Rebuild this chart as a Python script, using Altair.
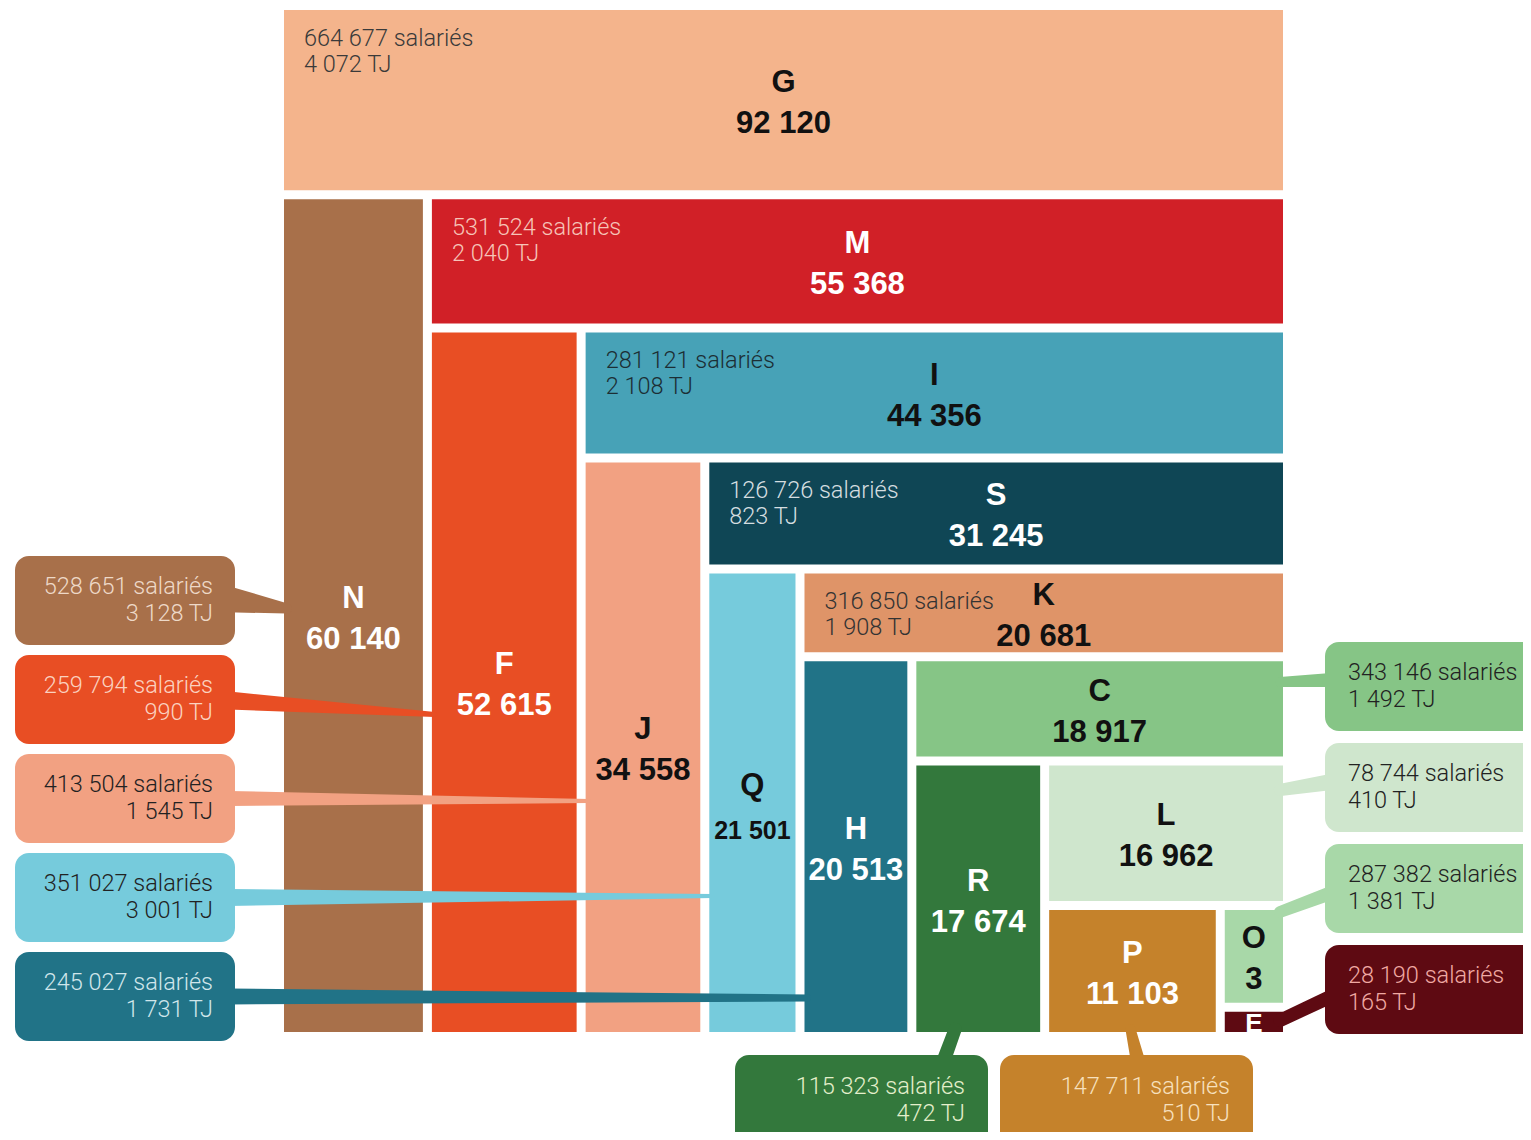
import altair as alt
import pandas as pd

# ---------------- data ----------------
codes = ["G", "N", "M", "F", "I", "J", "S", "Q", "K", "H", "C", "R", "L", "P", "O", "E"]
# tile values (O and E areas; O shows only "3", E shows no number)
values = [92120, 60140, 55368, 52615, 44356, 34558, 31245, 21501, 20681, 20513,
          18917, 17674, 16962, 11103, 3300, 950]
value_labels = ["92 120", "60 140", "55 368", "52 615", "44 356", "34 558", "31 245", "21 501",
                "20 681", "20 513", "18 917", "17 674", "16 962", "11 103", "3", ""]
salaries = ["664 677", "528 651", "531 524", "259 794", "281 121", "413 504", "126 726", "351 027",
            "316 850", "245 027", "343 146", "115 323", "78 744", "147 711", "287 382", "28 190"]
energy_tj = ["4 072", "3 128", "2 040", "990", "2 108", "1 545", "823", "3 001",
             "1 908", "1 731", "1 492", "472", "410", "510", "1 381", "165"]

# ---------------- styles ----------------
fill = {"G": "#F4B48C", "N": "#A8704A", "M": "#D12027", "F": "#E84E24", "I": "#47A2B7",
        "J": "#F2A182", "S": "#0F4655", "Q": "#76CBDC", "K": "#DF9468", "H": "#217387",
        "C": "#86C586", "R": "#33783C", "L": "#CFE6CD", "P": "#C5822B", "O": "#A8D8A8",
        "E": "#5E0A12"}
DARK = "#111111"
label_col = {c: DARK for c in codes}
for c in ["N", "M", "F", "S", "H", "R", "P", "E"]:
    label_col[c] = "#FFFFFF"
info_col = {"G": "#3A3A3A", "N": "#EED9C8", "M": "#F6C4B8", "F": "#FBD2C0", "I": "#1C2E34",
            "J": "#222222", "S": "#D5DEE0", "Q": "#222222", "K": "#333333", "H": "#D0E6EB",
            "C": "#222222", "R": "#E4EFCB", "L": "#222222", "P": "#F7E0BE", "O": "#222222",
            "E": "#F0A9A3"}

# ---------------- layout (alternating slice treemap) ----------------
X0, X1, Y0, Y1, GAP = 284, 1292, 10, 1041, 9
rect = [X0, Y0, X1, Y1]
remaining = float(sum(values))
tiles = {}
horizontal = True
for i, (c, v) in enumerate(zip(codes, values)):
    x0, y0, x1, y1 = rect
    if i == len(codes) - 1:
        t = (x0, y0, x1, y1)
    elif horizontal:
        h = (y1 - y0) * v / remaining
        t = (x0, y0, x1, y0 + h)
        rect = [x0, y0 + h, x1, y1]
    else:
        w = (x1 - x0) * v / remaining
        t = (x0, y0, x0 + w, y1)
        rect = [x0 + w, y0, x1, y1]
    remaining -= v
    horizontal = not horizontal
    tiles[c] = (t[0], t[1], t[2] - GAP, t[3] - GAP)

tile_rows = []
for c in codes:
    x0, y0, x1, y1 = tiles[c]
    tile_rows.append({"code": c, "x": x0, "x2": x1, "y": y0, "y2": y1, "fill": fill[c]})
tile_df = pd.DataFrame(tile_rows)

# labels in tiles
bold_rows = []
for c, lab in zip(codes, value_labels):
    x0, y0, x1, y1 = tiles[c]
    cx, cy = (x0 + x1) / 2, (y0 + y1) / 2
    if c == "E":
        bold_rows.append({"x": cx, "y": cy + 2, "t": c, "col": label_col[c], "s": 26})
        continue
    bold_rows.append({"x": cx, "y": cy - 17, "t": c, "col": label_col[c], "s": 31})
    bold_rows.append({"x": cx, "y": cy + 24 + (4 if c == "Q" else 0), "t": lab,
                      "col": label_col[c], "s": 25 if c == "Q" else 31})
bold_df = pd.DataFrame(bold_rows)

inside = ["G", "M", "I", "S", "K"]
left_side = ["N", "F", "J", "Q", "H"]
right_side = ["C", "L", "O", "E"]
bottom_side = ["R", "P"]

info_left_rows, info_right_rows = [], []
idx = {c: i for i, c in enumerate(codes)}
for c in inside:
    x0, y0, x1, y1 = tiles[c]
    i = idx[c]
    info_left_rows.append({"x": x0 + 20, "y": y0 + 29, "t": salaries[i] + " salariés", "col": info_col[c]})
    info_left_rows.append({"x": x0 + 20, "y": y0 + 55, "t": energy_tj[i] + " TJ", "col": info_col[c]})

box_rows, trail_rows = [], []
BOX_H = 89
# connector shape: (offset on tile side, offset on box side, width at tile, width at box)
conn = {"N": (8, -1, 10, 26), "F": (15, 1, 5, 18), "J": (2.5, 0, 4, 15), "Q": (-1.5, 0, 4, 17),
        "H": (1.5, 0, 7, 16), "C": (-4.5, -6.5, 10, 14), "L": (2.5, -5.5, 12, 16),
        "O": (23.5, 4.5, 12, 14), "E": (31, 7, 13, 14), "R": (-23, -34, 13, 14), "P": (-2, 5, 10, 14)}

for k, c in enumerate(left_side):
    bx0, bx1 = 15, 235
    by0 = 556 + 99 * k
    by1 = by0 + BOX_H
    i = idx[c]
    box_rows.append({"x": bx0, "x2": bx1, "y": by0, "y2": by1, "fill": fill[c]})
    info_right_rows.append({"x": bx1 - 22, "y": by0 + 31, "t": salaries[i] + " salariés", "col": info_col[c]})
    info_right_rows.append({"x": bx1 - 22, "y": by0 + 58, "t": energy_tj[i] + " TJ", "col": info_col[c]})
    cy = (by0 + by1) / 2
    dt, db, wt, wb = conn[c]
    tx0 = tiles[c][0]
    trail_rows.append({"id": c, "o": 0, "x": bx1 - 6, "y": cy + db, "w": wb, "col": fill[c]})
    trail_rows.append({"id": c, "o": 1, "x": tx0 + 3, "y": cy + dt, "w": wt, "col": fill[c]})

for k, c in enumerate(right_side):
    bx0, bx1 = 1325, 1545
    by0 = 642 + 101 * k
    by1 = by0 + BOX_H
    i = idx[c]
    box_rows.append({"x": bx0, "x2": bx1, "y": by0, "y2": by1, "fill": fill[c]})
    info_left_rows.append({"x": bx0 + 23, "y": by0 + 31, "t": salaries[i] + " salariés", "col": info_col[c]})
    info_left_rows.append({"x": bx0 + 23, "y": by0 + 58, "t": energy_tj[i] + " TJ", "col": info_col[c]})
    cy = (by0 + by1) / 2
    dt, db, wt, wb = conn[c]
    tx1 = tiles[c][2]
    trail_rows.append({"id": c, "o": 0, "x": tx1 - 3, "y": cy + dt, "w": wt, "col": fill[c]})
    trail_rows.append({"id": c, "o": 1, "x": bx0 + 6, "y": cy + db, "w": wb, "col": fill[c]})

bottom_boxes = {"R": (735, 988), "P": (1000, 1253)}
for c in bottom_side:
    bx0, bx1 = bottom_boxes[c]
    by0, by1 = 1055, 1150
    i = idx[c]
    box_rows.append({"x": bx0, "x2": bx1, "y": by0, "y2": by1, "fill": fill[c]})
    info_right_rows.append({"x": bx1 - 23, "y": by0 + 32, "t": salaries[i] + " salariés", "col": info_col[c]})
    info_right_rows.append({"x": bx1 - 23, "y": by0 + 59, "t": energy_tj[i] + " TJ", "col": info_col[c]})
    tx0, ty0, tx1, ty1 = tiles[c]
    tcx = (tx0 + tx1) / 2
    dt, db, wt, wb = conn[c]
    trail_rows.append({"id": c, "o": 0, "x": tcx + dt, "y": ty1 - 3, "w": wt, "col": fill[c]})
    trail_rows.append({"id": c, "o": 1, "x": tcx + db, "y": by0 + 4, "w": wb, "col": fill[c]})

box_df = pd.DataFrame(box_rows)
trail_df = pd.DataFrame(trail_rows)
info_l_df = pd.DataFrame(info_left_rows)
info_r_df = pd.DataFrame(info_right_rows)

# ---------------- chart ----------------
W, H = 1515, 1124
xs = alt.Scale(domain=[8, 8 + W], nice=False, zero=False)
ys = alt.Scale(domain=[8, 8 + H], nice=False, zero=False, reverse=True)

def X(f="x"):
    return alt.X(f + ":Q", scale=xs, axis=None)

def Y(f="y"):
    return alt.Y(f + ":Q", scale=ys, axis=None)

tiles_layer = alt.Chart(tile_df).mark_rect().encode(
    x=X(), x2="x2", y=Y(), y2="y2", color=alt.Color("fill:N", scale=None))

trail_layer = alt.Chart(trail_df).mark_trail().encode(
    x=X(), y=Y(), size=alt.Size("w:Q", scale=None),
    color=alt.Color("col:N", scale=None), detail="id:N", order="o:Q")

box_layer = alt.Chart(box_df).mark_rect(cornerRadius=14).encode(
    x=X(), x2="x2", y=Y(), y2="y2", color=alt.Color("fill:N", scale=None))

bold_layer = alt.Chart(bold_df).mark_text(
    font="Liberation Sans", fontWeight="bold", align="center", baseline="middle").encode(
    x=X(), y=Y(), text="t:N", color=alt.Color("col:N", scale=None),
    size=alt.Size("s:Q", scale=None))

info_l_layer = alt.Chart(info_l_df).mark_text(
    font="Roboto", fontWeight=300, fontSize=23.5, align="left", baseline="middle").encode(
    x=X(), y=Y(), text="t:N", color=alt.Color("col:N", scale=None))

info_r_layer = alt.Chart(info_r_df).mark_text(
    font="Roboto", fontWeight=300, fontSize=23.5, align="right", baseline="middle").encode(
    x=X(), y=Y(), text="t:N", color=alt.Color("col:N", scale=None))

chart = alt.layer(tiles_layer, trail_layer, box_layer, bold_layer, info_l_layer, info_r_layer).properties(
    width=W, height=H, padding=0, autosize=alt.AutoSizeParams(type="none"),
    background="#FFFFFF").configure_view(stroke=None)

chart.save("out.html", embed_options={"renderer": "svg", "actions": False})
